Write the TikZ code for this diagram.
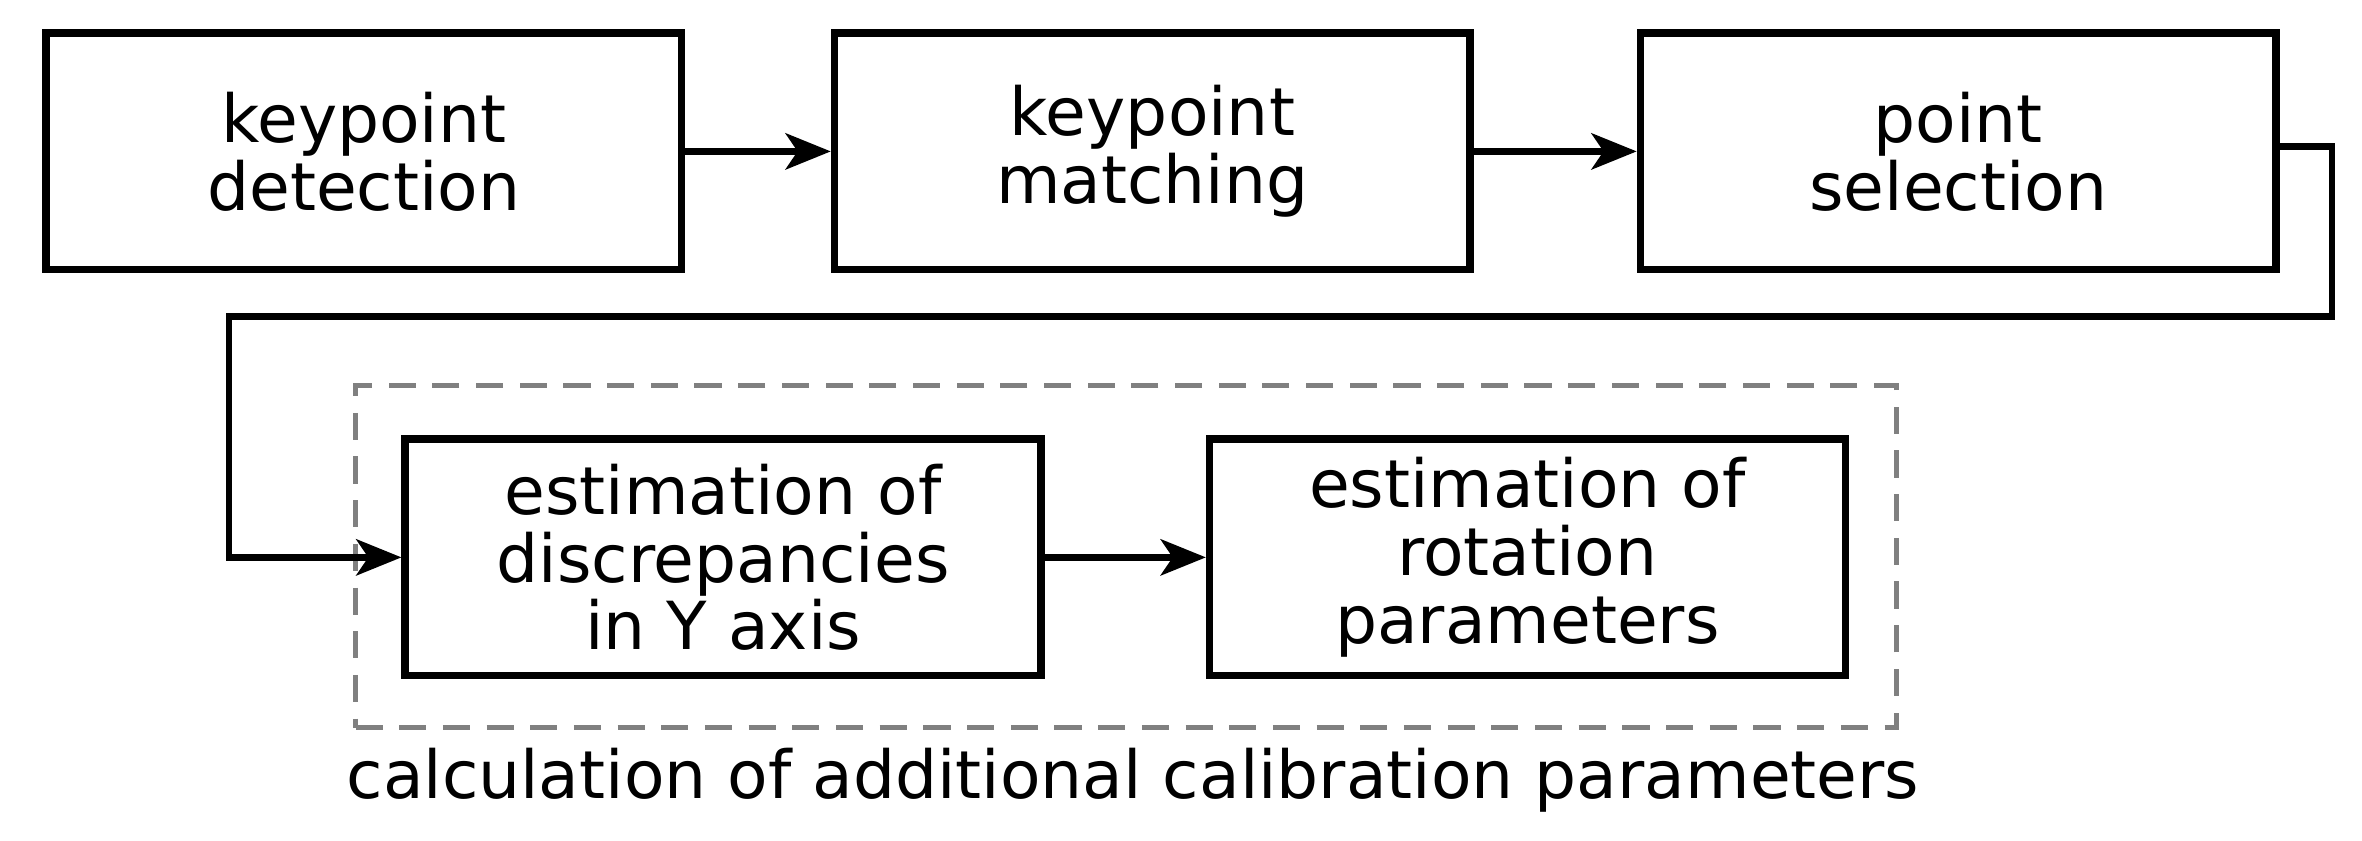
\documentclass[tikz,border=0pt]{standalone}
\usepackage{fontspec}
\setmainfont{DejaVu Sans}
\usetikzlibrary{arrows.meta}
\begin{document}
\begin{tikzpicture}[x=1pt,y=-1pt,
  box/.style={draw,line width=5pt,minimum width=422pt,minimum height=157pt,align=center,font=\fontsize{44}{45}\selectfont,inner sep=0pt},
  arr/.style={line width=4.5pt,-{Stealth[length=30pt,width=24pt,inset=8pt]}}]
\useasboundingbox (0,0) rectangle (1568,558);
\node[box] (b1) at (241.5,100.5) {keypoint\\detection};
\node[box] (b2) at (765,100.5) {keypoint\\matching};
\node[box] (b3) at (1300,100.5) {point\\selection};
\node[box] (b4) at (480,370) {estimation of\\discrepancies\\in Y axis};
\node[box] (b5) at (1014,370) {estimation of\\rotation\\parameters};
\node[draw=gray,line width=3.5pt,dash pattern=on 18pt off 11pt,minimum width=1023pt,minimum height=227pt] (grp) at (747.5,369.5) {};
\node[font=\fontsize{44}{45}\selectfont] (lbl) at (752,518) {calculation of additional calibration parameters};
\draw[arr] (b1.east) -- (b2.west);
\draw[arr] (b2.east) -- (b3.west);
\draw[arr] (b4.east) -- (b5.west);
\coordinate (c1) at (1548,97);
\coordinate (c2) at (1548,210);
\coordinate (c3) at (152,210);
\coordinate (c4) at (152,370);
\draw[arr] (b3.east |- c1) -- (c1) -- (c2) -- (c3) -- (c4) -- (b4.west);
\end{tikzpicture}
\end{document}
